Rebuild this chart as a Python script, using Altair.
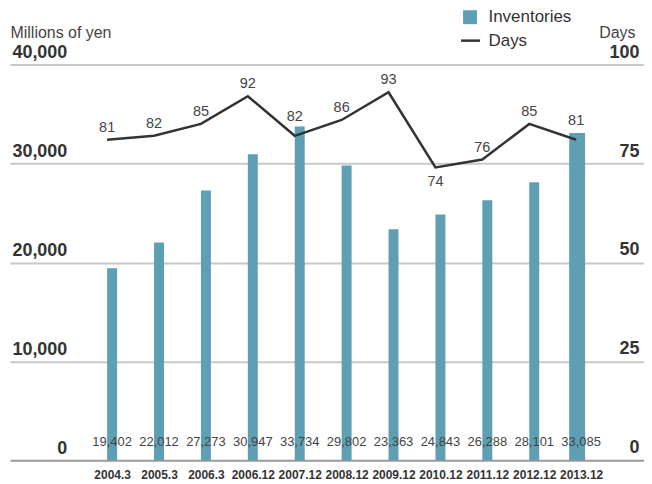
import altair as alt
import pandas as pd

periods = ["2004.3", "2005.3", "2006.3", "2006.12", "2007.12", "2008.12",
           "2009.12", "2010.12", "2011.12", "2012.12", "2013.12"]
inventories = [19402, 22012, 27273, 30947, 33734, 29802, 23363, 24843, 26288, 28101, 33085]
days = [81, 82, 85, 92, 82, 86, 93, 74, 76, 85, 81]

valley_labels = ["2007.12", "2013.12"]
below_labels = ["2010.12"]
wide_bar = "2013.12"

df = pd.DataFrame({"period": periods, "inventories": inventories, "days": days})

BAR = "#5f9fb4"
LINE = "#333333"
SANS = "Liberation Sans, Helvetica, Arial, sans-serif"

W, H = 636, 397

period_array = "[" + ",".join("'%s'" % p for p in periods) + "]"

x_enc = alt.X(
    "idx:Q",
    scale=alt.Scale(domain=[-2.071, 11.234], nice=False, zero=False),
    axis=alt.Axis(title=None, values=list(range(len(periods))),
                  labelExpr=period_array + "[datum.value]",
                  labelAngle=0, ticks=False, domain=False, grid=False,
                  labelFont=SANS, labelFontWeight="bold", labelFontSize=12,
                  labelColor="#333333", labelPadding=9, labelFlush=False,
                  labelOverlap=False),
)

inv_scale = alt.Scale(domain=[0, 40000], nice=False, zero=True)
day_scale = alt.Scale(domain=[0, 100], nice=False, zero=True)

base = alt.Chart(df).transform_calculate(
    series="'Inventories'", series2="'Days'",
    idx="indexof(" + period_array + ", datum.period)",
)

bars = base.transform_filter(alt.datum.period != wide_bar).mark_bar(size=10).encode(
    x=x_enc,
    y=alt.Y("inventories:Q", scale=inv_scale,
            axis=alt.Axis(title="Millions of yen", orient="left",
                          values=[0, 10000, 20000, 30000, 40000], format=",d",
                          grid=True,
                          gridColor={"condition": {"test": "datum.value === 0", "value": "#9a9a9a"},
                                     "value": "#c8c8c8"},
                          gridWidth=2,
                          ticks=False, tickSize=0, domain=False,
                          labelAlign="right", labelPadding=-57,
                          labelBaseline="alphabetic", labelOffset=-7,
                          labelFont=SANS, labelFontWeight="bold", labelFontSize=18,
                          labelColor="#333333", labelFlush=False,
                          titleAngle=0, titleAlign="left", titleBaseline="alphabetic",
                          titleX=0, titleY=-27, titleFont=SANS, titleFontSize=16,
                          titleFontWeight="normal", titleColor="#444444")),
    fill=alt.Fill("series:N", scale=alt.Scale(domain=["Inventories"], range=[BAR]),
                  legend=alt.Legend(title=None, orient="none", legendX=453, legendY=-56,
                                    symbolType="square", symbolSize=196,
                                    symbolStrokeWidth=0, labelOffset=10,
                                    labelFont=SANS, labelFontSize=17,
                                    labelColor="#333333", padding=0)),
)

last_bar = base.transform_filter(alt.datum.period == wide_bar).mark_bar(size=16, xOffset=-4).encode(
    x=x_enc,
    y=alt.Y("inventories:Q", scale=inv_scale),
    fill=alt.Fill("series:N"),
)

val_text = base.mark_text(font=SANS, fontSize=13, color="#444444",
                          baseline="alphabetic", dy=-14).encode(
    x=x_enc,
    y=alt.YDatum(0, scale=inv_scale),
    text=alt.Text("inventories:Q", format=","),
)

inv_layer = alt.layer(bars, last_bar, val_text)

line = base.mark_line(strokeWidth=2.5, xOffset=-5).encode(
    x=x_enc,
    y=alt.Y("days:Q", scale=day_scale,
            axis=alt.Axis(title="Days", orient="right",
                          values=[0, 25, 50, 75, 100], grid=False,
                          ticks=False, tickSize=0, domain=False,
                          labelAlign="right", labelPadding=-5,
                          labelBaseline="alphabetic", labelOffset=-7.5,
                          labelFont=SANS, labelFontWeight="bold", labelFontSize=18,
                          labelColor="#333333", labelFlush=False,
                          titleAngle=0, titleAlign="right", titleBaseline="alphabetic",
                          titleX=-9, titleY=-27, titleFont=SANS, titleFontSize=16,
                          titleFontWeight="normal", titleColor="#444444")),
    stroke=alt.Stroke("series2:N", scale=alt.Scale(domain=["Days"], range=[LINE]),
                      legend=alt.Legend(title=None, orient="none", legendX=451, legendY=-35,
                                        symbolType="stroke", symbolSize=361,
                                        symbolStrokeWidth=2.5, labelOffset=7,
                                        labelFont=SANS, labelFontSize=17,
                                        labelColor="#333333", padding=0)),
)

def day_labels(flt, dy):
    return base.transform_filter(flt).mark_text(
        font=SANS, fontSize=14.5, color="#444444", baseline="alphabetic",
        dy=dy, xOffset=-5).encode(
        x=x_enc,
        y=alt.Y("days:Q", scale=day_scale),
        text="days:Q",
    )

normal_flt = alt.FieldOneOfPredicate(field="period", oneOf=[p for p in periods if p not in valley_labels + below_labels])
lab_norm = day_labels(normal_flt, -8)
lab_valley = day_labels(alt.FieldOneOfPredicate(field="period", oneOf=valley_labels), -15)
lab_below = day_labels(alt.FieldOneOfPredicate(field="period", oneOf=below_labels), 19)

day_layer = alt.layer(line, lab_norm, lab_valley, lab_below)

chart = alt.layer(inv_layer, day_layer).resolve_scale(
    y="independent", fill="independent", stroke="independent"
).properties(
    width=W, height=H,
    autosize=alt.AutoSizeParams(type="none"),
    padding={"left": 2, "top": 56, "right": 0, "bottom": 26},
).configure_view(stroke=None).configure_legend(orient="none")

chart.save("out.html", embed_options={"renderer": "svg", "actions": False})
